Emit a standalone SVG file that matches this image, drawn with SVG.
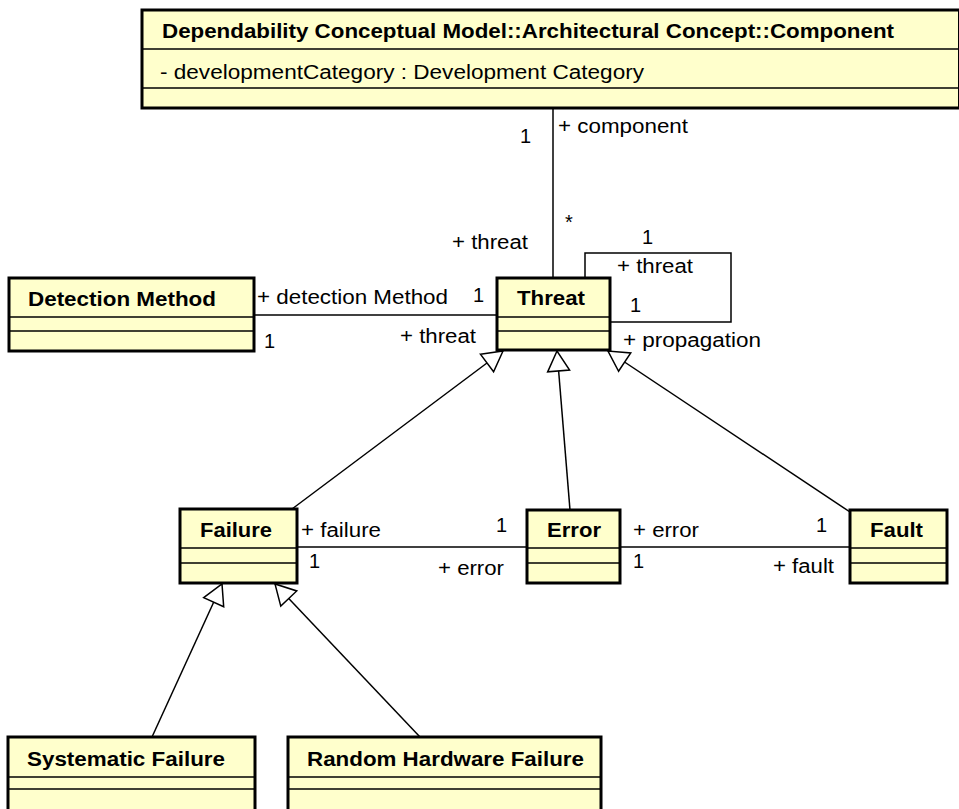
<svg xmlns="http://www.w3.org/2000/svg" width="959" height="809" viewBox="0 0 959 809">
  <style>
    .box { fill: #FFFFCC; stroke: #000; stroke-width: 3; }
    .div { stroke: #000; stroke-width: 1.5; fill: none; }
    .name { font-family: "Liberation Sans", Arial, sans-serif; font-size: 20px; font-weight: bold; fill: #000; }
    .lbl { font-family: "Liberation Sans", Arial, sans-serif; font-size: 20px; fill: #000; }
    .edge { stroke: #000; stroke-width: 1.5; fill: none; }
    .gen { stroke: #000; stroke-width: 1.5; fill: none; marker-end: url(#hollow); }
  </style>
  <defs>
    <!-- hollow triangle for generalization -->
    <marker id="hollow" viewBox="0 0 20 22" refX="20" refY="11" markerWidth="20" markerHeight="22" markerUnits="userSpaceOnUse" orient="auto" overflow="visible">
      <path d="M0,0 L20,11 L0,22 Z" fill="#fff" stroke="#000" stroke-width="1.5"/>
    </marker>
  </defs>
  <rect width="959" height="809" fill="#fff"/>

  <!-- connectors -->
  <g id="connectors">
    <line class="edge" x1="553" y1="108" x2="553" y2="278"/>
    <polyline class="edge" points="585,278 585,253 731,253 731,322 610,322"/>
    <line class="edge" x1="254" y1="315" x2="497" y2="315"/>
    <line class="edge" x1="297" y1="547" x2="527" y2="547"/>
    <line class="edge" x1="620" y1="547" x2="850" y2="547"/>
    <line class="gen" x1="292" y1="509" x2="503" y2="351"/>
    <line class="gen" x1="570" y1="510" x2="557" y2="351"/>
    <line class="gen" x1="850" y1="512" x2="608" y2="351"/>
    <line class="gen" x1="152" y1="737" x2="222" y2="584"/>
    <line class="gen" x1="420" y1="737" x2="275" y2="584"/>

    <text class="lbl" x="558" y="133" textLength="130" lengthAdjust="spacingAndGlyphs">+ component</text>
    <text class="lbl" x="520" y="143">1</text>
    <text class="lbl" x="565" y="229">*</text>
    <text class="lbl" x="452" y="249" textLength="76" lengthAdjust="spacingAndGlyphs">+ threat</text>
    <text class="lbl" x="642" y="244">1</text>
    <text class="lbl" x="617" y="273" textLength="76" lengthAdjust="spacingAndGlyphs">+ threat</text>
    <text class="lbl" x="630" y="312">1</text>
    <text class="lbl" x="623" y="347" textLength="138" lengthAdjust="spacingAndGlyphs">+ propagation</text>
    <text class="lbl" x="257" y="304" textLength="191" lengthAdjust="spacingAndGlyphs">+ detection Method</text>
    <text class="lbl" x="473" y="302">1</text>
    <text class="lbl" x="400" y="343" textLength="76" lengthAdjust="spacingAndGlyphs">+ threat</text>
    <text class="lbl" x="264" y="348">1</text>
    <text class="lbl" x="301" y="537" textLength="80" lengthAdjust="spacingAndGlyphs">+ failure</text>
    <text class="lbl" x="496" y="532">1</text>
    <text class="lbl" x="309" y="568">1</text>
    <text class="lbl" x="438" y="575" textLength="66" lengthAdjust="spacingAndGlyphs">+ error</text>
    <text class="lbl" x="633" y="537" textLength="66" lengthAdjust="spacingAndGlyphs">+ error</text>
    <text class="lbl" x="816" y="532">1</text>
    <text class="lbl" x="633" y="568">1</text>
    <text class="lbl" x="773" y="573" textLength="61" lengthAdjust="spacingAndGlyphs">+ fault</text>
  </g>

  <!-- classes -->
  <g id="component">
    <rect class="box" x="142" y="10" width="817.5" height="98"/>
    <line class="div" x1="142" y1="49" x2="959" y2="49"/>
    <line class="div" x1="142" y1="88" x2="959" y2="88"/>
    <text class="name" x="162" y="38" textLength="732" lengthAdjust="spacingAndGlyphs">Dependability Conceptual Model::Architectural Concept::Component</text>
    <text class="lbl" x="160" y="79" textLength="484" lengthAdjust="spacingAndGlyphs">- developmentCategory : Development Category</text>
  </g>

  <g id="detection-method">
    <rect class="box" x="9" y="278" width="245" height="73"/>
    <line class="div" x1="9" y1="317" x2="254" y2="317"/>
    <line class="div" x1="9" y1="331" x2="254" y2="331"/>
    <text class="name" x="28" y="306" textLength="188" lengthAdjust="spacingAndGlyphs">Detection Method</text>
  </g>

  <g id="threat">
    <rect class="box" x="497" y="278" width="113" height="72"/>
    <line class="div" x1="497" y1="317" x2="610" y2="317"/>
    <line class="div" x1="497" y1="331" x2="610" y2="331"/>
    <text class="name" x="517" y="305" textLength="68" lengthAdjust="spacingAndGlyphs">Threat</text>
  </g>

  <g id="failure">
    <rect class="box" x="180" y="509" width="117" height="74"/>
    <line class="div" x1="180" y1="548" x2="297" y2="548"/>
    <line class="div" x1="180" y1="563" x2="297" y2="563"/>
    <text class="name" x="200" y="537" textLength="72" lengthAdjust="spacingAndGlyphs">Failure</text>
  </g>

  <g id="error">
    <rect class="box" x="527" y="510" width="93" height="73"/>
    <line class="div" x1="527" y1="548" x2="620" y2="548"/>
    <line class="div" x1="527" y1="563" x2="620" y2="563"/>
    <text class="name" x="547" y="537" textLength="54" lengthAdjust="spacingAndGlyphs">Error</text>
  </g>

  <g id="fault">
    <rect class="box" x="850" y="510" width="97" height="73"/>
    <line class="div" x1="850" y1="548" x2="947" y2="548"/>
    <line class="div" x1="850" y1="563" x2="947" y2="563"/>
    <text class="name" x="870" y="537" textLength="53" lengthAdjust="spacingAndGlyphs">Fault</text>
  </g>

  <g id="systematic-failure">
    <rect class="box" x="8" y="737" width="247" height="76"/>
    <line class="div" x1="8" y1="777" x2="255" y2="777"/>
    <line class="div" x1="8" y1="789" x2="255" y2="789"/>
    <text class="name" x="27" y="766" textLength="198" lengthAdjust="spacingAndGlyphs">Systematic Failure</text>
  </g>

  <g id="random-hardware-failure">
    <rect class="box" x="288" y="737" width="313" height="76"/>
    <line class="div" x1="288" y1="777" x2="601" y2="777"/>
    <line class="div" x1="288" y1="789" x2="601" y2="789"/>
    <text class="name" x="307" y="766" textLength="277" lengthAdjust="spacingAndGlyphs">Random Hardware Failure</text>
  </g>
</svg>
